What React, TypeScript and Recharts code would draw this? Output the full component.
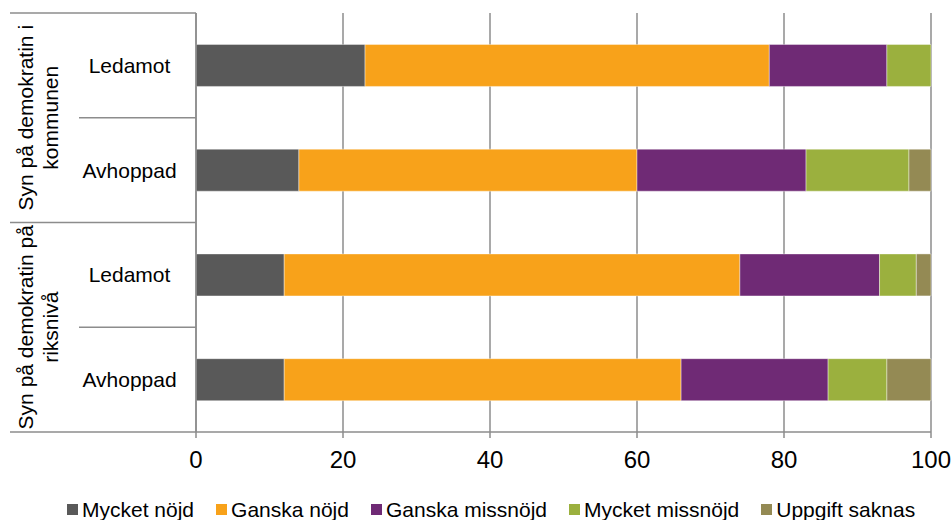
import React from 'react';
import { BarChart, Bar, XAxis, YAxis, CartesianGrid, Legend } from 'recharts';

const categories = ['Ledamot', 'Avhoppad', 'Ledamot', 'Avhoppad'];
const groups = [
  ['Syn på demokratin i', 'kommunen'],
  ['Syn på demokratin på', 'riksnivå'],
];
const seriesNames = ['Mycket nöjd', 'Ganska nöjd', 'Ganska missnöjd', 'Mycket missnöjd', 'Uppgift saknas'];
const mycketNojd = [23, 14, 12, 12];
const ganskaNojd = [55, 46, 62, 54];
const ganskaMissnojd = [16, 23, 19, 20];
const mycketMissnojd = [6, 14, 5, 8];
const uppgiftSaknas = [0, 3, 2, 6];
const xTicks = [0, 20, 40, 60, 80, 100];

const colors = ['#595959', '#F8A21A', '#6F2A75', '#9BB03E', '#948A54'];
const seriesValues = [mycketNojd, ganskaNojd, ganskaMissnojd, mycketMissnojd, uppgiftSaknas];

const data = categories.map((c, i) => {
  const row: any = { id: String(i), cat: c };
  seriesNames.forEach((s, k) => {
    row[s] = seriesValues[k][i];
  });
  return row;
});

const W = 952;
const H = 520;
const MARGIN = { top: 13, right: 21, bottom: 0, left: 0 };
const LEGEND_H = 21;
const XAXIS_H = 67;
const Y_AXIS_W = 196;
const PLOT_TOP = MARGIN.top;
const PLOT_BOTTOM = H - MARGIN.bottom - LEGEND_H - XAXIS_H;
const BAND = (PLOT_BOTTOM - PLOT_TOP) / categories.length;
const FONT = '"Liberation Sans", Arial, sans-serif';
const LINE = '#8c8c8c';

const YTick = (props: any) => {
  const { y, index } = props;
  const half = BAND / 2;
  const top = y - half;
  const isGroupStart = index % 2 === 0;
  const g = groups[Math.floor(index / 2)];
  const gy = y + half;
  return (
    <g>
      <line x1={isGroupStart ? 10 : 79} x2={Y_AXIS_W} y1={top} y2={top} stroke={LINE} strokeWidth={1.5} />
      {index === categories.length - 1 && (
        <line x1={10} x2={Y_AXIS_W} y1={y + half} y2={y + half} stroke={LINE} strokeWidth={1.5} />
      )}
      <text x={129.5} y={y} textAnchor="middle" dominantBaseline="central" fontFamily={FONT} fontSize={21} fill="#000">
        {categories[index]}
      </text>
      {isGroupStart && (
        <g>
          <text
            x={25}
            y={gy}
            transform={`rotate(-90 25 ${gy})`}
            textAnchor="middle"
            dominantBaseline="central"
            fontFamily={FONT}
            fontSize={21}
            fill="#000"
          >
            {g[0]}
          </text>
          <text
            x={50}
            y={gy}
            transform={`rotate(-90 50 ${gy})`}
            textAnchor="middle"
            dominantBaseline="central"
            fontFamily={FONT}
            fontSize={21}
            fill="#000"
          >
            {g[1]}
          </text>
        </g>
      )}
    </g>
  );
};

const LegendContent = () => (
  <div
    style={{
      display: 'flex',
      alignItems: 'center',
      paddingLeft: 67,
      height: LEGEND_H,
      lineHeight: `${LEGEND_H}px`,
      fontFamily: FONT,
      fontSize: 21,
      color: '#000',
      whiteSpace: 'nowrap',
    }}
  >
    {seriesNames.map((s, k) => (
      <div key={s} style={{ display: 'flex', alignItems: 'center', marginRight: 22 }}>
        <span style={{ display: 'inline-block', width: 11, height: 11, background: colors[k], marginRight: 4 }} />
        <span>{s}</span>
      </div>
    ))}
  </div>
);

export default function App() {
  return (
    <div style={{ position: 'absolute', left: 0, top: 0, width: W, height: H, background: '#fff' }}>
      <BarChart width={W} height={H} data={data} layout="vertical" margin={MARGIN} barCategoryGap="30%">
        <CartesianGrid horizontal={false} vertical={true} stroke={LINE} strokeWidth={1.5} />
        <XAxis
          type="number"
          domain={[0, 100]}
          ticks={xTicks}
          height={XAXIS_H}
          tickSize={6}
          tickMargin={13}
          stroke={LINE}
          strokeWidth={1.5}
          tick={{ fontSize: 24, fill: '#000', fontFamily: FONT }}
          interval={0}
        />
        <YAxis
          type="category"
          dataKey="id"
          width={Y_AXIS_W}
          tickLine={false}
          stroke={LINE}
          strokeWidth={1.5}
          interval={0}
          tick={<YTick />}
        />
        <Legend
          verticalAlign="bottom"
          align="left"
          content={<LegendContent />}
          wrapperStyle={{ left: 0, width: W, height: LEGEND_H }}
        />
        {seriesNames.map((s, k) => (
          <Bar
            key={s}
            dataKey={s}
            stackId="a"
            fill={colors[k]}
            stroke="rgba(255,255,255,0.5)"
            strokeWidth={0.8}
            isAnimationActive={false}
          />
        ))}
      </BarChart>
    </div>
  );
}
